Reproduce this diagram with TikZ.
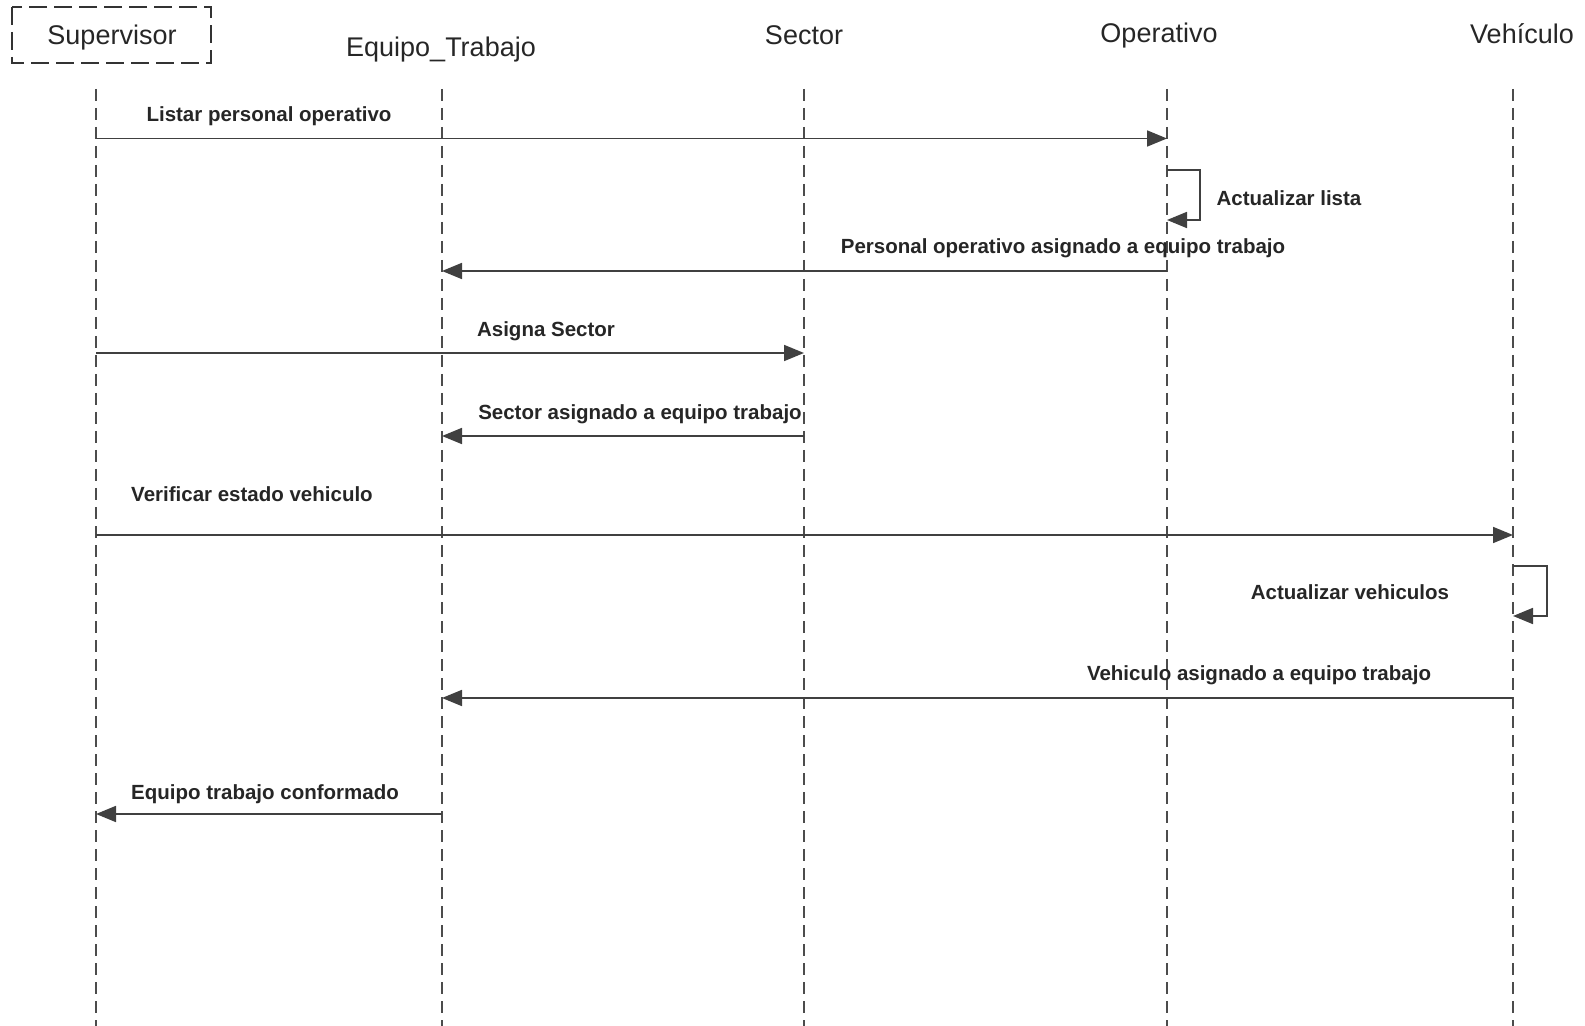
\documentclass[tikz,border=0pt]{standalone}
\usepackage{fontspec}
\setmainfont{Liberation Sans}
\usetikzlibrary{arrows.meta}
\begin{document}
\begin{tikzpicture}[x=0.5pt,y=-0.5pt,
  head/.style={font=\fontsize{13.5}{16}\selectfont, text=black!85, inner sep=0pt},
  lifeline/.style={draw=black!70, line width=0.6pt, dash pattern=on 6pt off 3.5pt},
  msg/.style={draw=black!75, line width=0.9pt, -{Triangle[length=10pt,width=8pt]}},
  lbl/.style={font=\bfseries\fontsize{10.25}{12}\selectfont, text=black!85, inner sep=0pt}]
\useasboundingbox (0,0) rectangle (1585,1026);

% object heads
\node[head] (hsup) at (112,38) {Supervisor};
\draw[line width=1pt, black!80, dash pattern=on 9pt off 3.5pt] (12,7) rectangle (211,63);
\node[head] (hequ) at (441,50) {Equipo\_Trabajo};
\node[head] (hsec) at (804,35) {Sector};
\node[head] (hope) at (1159,36) {Operativo};
\node[head] (hveh) at (1522,34) {Vehículo};

% lifelines
\coordinate (sup) at (96,89);   \coordinate (supB) at (96,1026);
\coordinate (equ) at (442,89);  \coordinate (equB) at (442,1026);
\coordinate (sec) at (804,89);  \coordinate (secB) at (804,1026);
\coordinate (ope) at (1167,89); \coordinate (opeB) at (1167,1026);
\coordinate (veh) at (1513,89); \coordinate (vehB) at (1513,1026);
\foreach \t/\b in {sup/supB,equ/equB,sec/secB,ope/opeB,veh/vehB}
  \draw[lifeline] (\t) -- (\b);

% messages
\draw[msg] (sup |- 0,138.5) -- (ope |- 0,138.5);
\node[lbl] (m1) at (269,116) {Listar personal operativo};

\draw[msg] (ope |- 0,170) -- (1200,170) -- (1200,220) -- (ope |- 0,220);
\node[lbl] (m2) at (1289,198) {Actualizar lista};

\draw[msg] (ope |- 0,271) -- (equ |- 0,271);
\node[lbl] (m3) at (1063,248) {Personal operativo asignado a equipo trabajo};

\draw[msg] (sup |- 0,353) -- (sec |- 0,353);
\node[lbl] (m4) at (546,331) {Asigna Sector};

\draw[msg] (sec |- 0,436) -- (equ |- 0,436);
\node[lbl] (m5) at (640,414) {Sector asignado a equipo trabajo};

\draw[msg] (sup |- 0,535) -- (veh |- 0,535);
\node[lbl] (m6) at (252,494) {Verificar estado vehiculo};

\draw[msg] (veh |- 0,566) -- (1547,566) -- (1547,616) -- (veh |- 0,616);
\node[lbl] (m7) at (1350,592) {Actualizar vehiculos};

\draw[msg] (veh |- 0,698) -- (equ |- 0,698);
\node[lbl] (m8) at (1259,675) {Vehiculo asignado a equipo trabajo};

\draw[msg] (equ |- 0,814) -- (sup |- 0,814);
\node[lbl] (m9) at (265,794) {Equipo trabajo conformado};
\end{tikzpicture}
\end{document}
